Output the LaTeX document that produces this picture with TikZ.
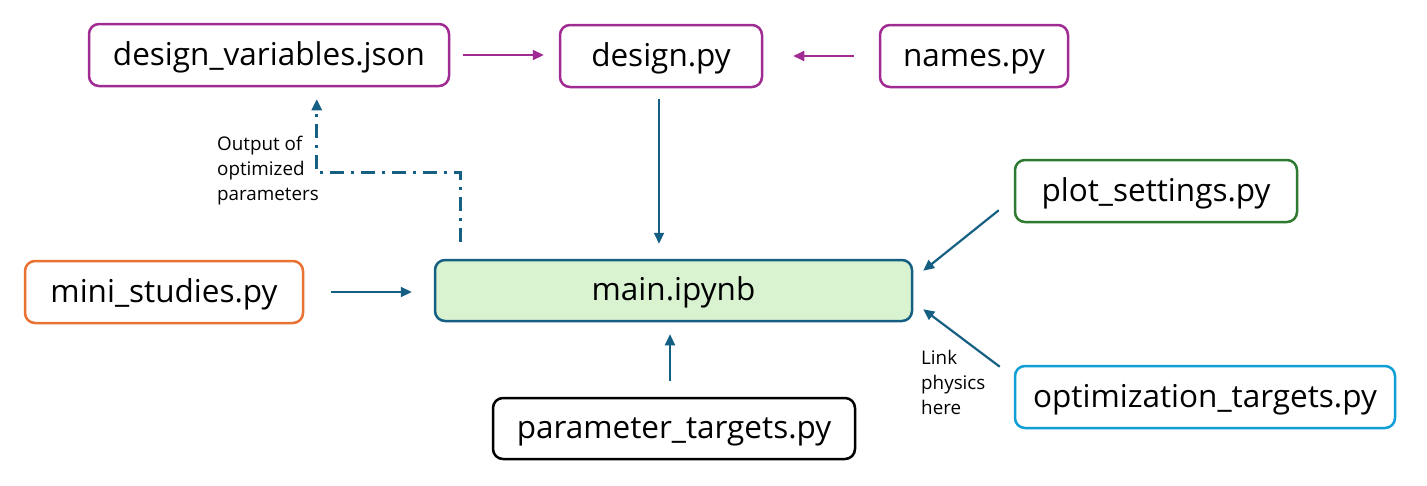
\documentclass[tikz,border=0pt]{standalone}
\usepackage{fontspec}
\setmainfont{Open Sans}
\usetikzlibrary{arrows.meta,calc}
\definecolor{cpurple}{HTML}{A02B93}
\definecolor{cteal}{HTML}{156082}
\definecolor{corange}{HTML}{E97132}
\definecolor{cgreen}{HTML}{2F7A31}
\definecolor{cblue}{HTML}{0F9ED5}
\definecolor{cfill}{HTML}{D9F2D0}
\tikzset{
  filebox/.style={draw, line width=2.5pt, rounded corners=10pt, fill=white,
    minimum height=62pt, inner sep=0pt, text height=24pt, text depth=4pt,
    font=\fontsize{31.5}{36}\selectfont},
  arr/.style={draw=cteal, line width=2.2pt, -{Triangle[length=11pt,width=10pt]}},
  parr/.style={draw=cpurple, line width=2.2pt, -{Triangle[length=11pt,width=10pt]}},
  note/.style={align=left, inner sep=0pt, anchor=west, font=\fontsize{18.8}{25}\selectfont}
}
\begin{document}
\begin{tikzpicture}[x=1pt,y=-1pt]
\useasboundingbox (0,0) rectangle (1427,485);
\node[filebox, draw=cpurple, minimum width=360pt] (dv) at (269,55) {design\_variables.json};
\node[filebox, draw=cpurple, minimum width=202pt] (design) at (661,56) {design.py};
\node[filebox, draw=cpurple, minimum width=188pt] (names) at (974,56) {names.py};
\node[filebox, draw=cgreen, minimum width=282pt] (plot) at (1156,191) {plot\_settings.py};
\node[filebox, draw=cteal, fill=cfill, minimum width=477pt, minimum height=61pt] (main) at (673.5,290.5) {main.ipynb};
\node[filebox, draw=corange, minimum width=278pt] (mini) at (164,292) {mini\_studies.py};
\node[filebox, draw=cblue, minimum width=380pt] (opt) at (1205,397) {optimization\_targets.py};
\node[filebox, draw=black, minimum width=362pt, minimum height=61pt] (param) at (674,428.5) {parameter\_targets.py};

\node[note] (lout) at (217,171) {Output of\\optimized\\parameters};
\node[note] (llink) at (921,382) {Link\\physics\\here};

\draw[parr, shorten <=13pt, shorten >=15pt] (dv.east) -- (dv.east -| design.west);
\draw[parr, shorten <=25pt, shorten >=30pt] (names.west) -- (names.west -| design.east);
\draw[arr, shorten <=11pt, shorten >=15pt] ($(design.south)+(-2,0)$) -- ($(main.north)+(-14.5,0)$);
\draw[arr, shorten <=27pt, shorten >=22pt] (mini.east) -- (mini.east -| main.west);
\draw[arr, shorten <=16pt, shorten >=12pt] ($(param.north)+(-4,0)$) -- ($(main.south)+(-3.5,0)$);
\draw[arr] ($(plot.south west)+(-15,-13)$) -- ($(main.north east)+(10,12)$);
\draw[arr] ($(opt.north west)+(-14,2)$) -- ($(main.south east)+(10,-13)$);
\draw[arr, line width=2.6pt, dash pattern=on 14pt off 7pt on 3pt off 7pt]
  ($(main.north west)+(27,-17)$) |- ($(dv.south west)+(229,85)$) -- ($(dv.south west)+(229,12)$);
\end{tikzpicture}
\end{document}
